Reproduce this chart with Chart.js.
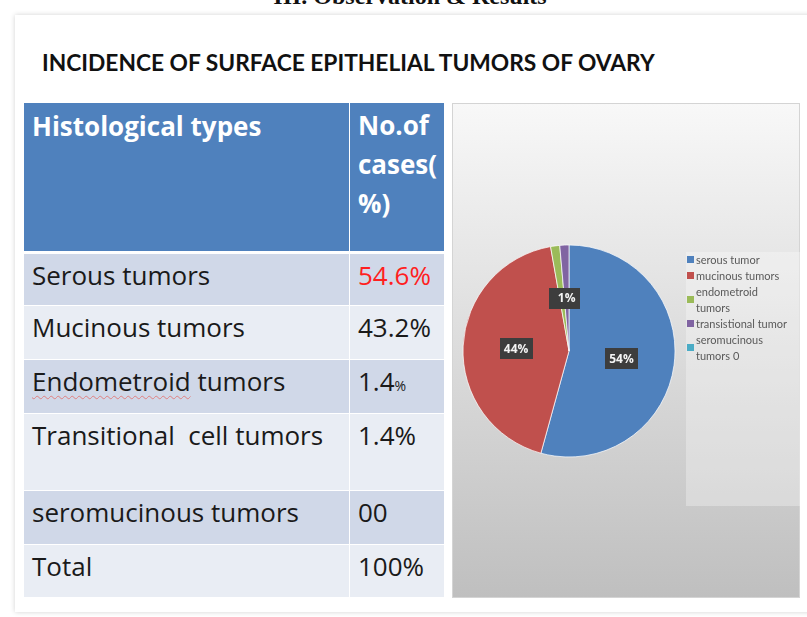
<!DOCTYPE html>
<html>
<head>
<meta charset="utf-8">
<script src="https://cdn.jsdelivr.net/npm/chart.js@4/dist/chart.umd.min.js"></script>
<style>
  html, body { margin: 0; padding: 0; background: #fff; width: 807px; height: 617px; overflow: hidden; }
  body { position: relative; font-family: Lato, "Open Sans", sans-serif; }
  #page-title { position: absolute; left: 0; width: 820px; top: -17px; text-align: center;
    font-family: "Liberation Serif", serif; font-weight: bold; font-size: 24px; color: #111; }
  #slide { position: absolute; left: 15px; top: 15px; width: 800px; height: 597px; background: #fff;
    box-shadow: 0 0 5px rgba(0,0,0,0.18); }
  #heading { position: absolute; left: 42px; top: 49px; font-weight: bold; font-size: 22px; color: #111;
    white-space: nowrap; transform-origin: left top; }
  #tbl { position: absolute; left: 23px; top: 102px; width: 421px; border-collapse: collapse; table-layout: fixed; }
  #tbl td { border: 1px solid #fff; padding: 0 0 0 8px; vertical-align: top; font-family: "Open Sans", sans-serif;
    font-size: 26px; color: #1a1a1a; white-space: nowrap; overflow: hidden; }
  #tbl tr.head td { background: #4f81bd; color: #fff; font-weight: bold; border-bottom: 3px solid #fff; }
  #tbl tr.odd td { background: #d0d8e8; }
  #tbl tr.even td { background: #e9edf4; }
  #panel { position: absolute; left: 452px; top: 103px; width: 348px; height: 495px;
    background: linear-gradient(#f8f8f8, #bfbfbf); box-shadow: inset 0 0 0 1px #d4d4d4; }
  #chart-box { position: absolute; left: 0; top: 0; width: 348px; height: 495px; }
  #legend { position: absolute; left: 234px; top: 149px; width: 114px; height: 254px;
    background: rgba(255,255,255,0.3); }
  .lg-item { position: relative; padding-left: 10px; font-size: 11px; line-height: 16px; color: #595959; }
  .lg-item span.sw { position: absolute; left: 1px; width: 7px; height: 7px; top: 50%; margin-top: -4px; }
</style>
</head>
<body>
<div id="page-title">III. Observation &amp; Results</div>
<div id="slide"></div>
<div id="heading" data-fit="613">INCIDENCE OF SURFACE EPITHELIAL TUMORS OF OVARY</div>
<table id="tbl"></table>
<div id="panel">
  <div id="chart-box"><canvas id="chart"></canvas></div>
  <div id="legend"></div>
</div>
<script>
  // table columns
  const headTypes = "Histological types";
  const headCases = ["No.of", "cases(", "%)"];
  const tableTypes = ["Serous tumors", "Mucinous tumors", "Endometroid tumors",
    "Transitional\u00a0 cell tumors", "seromucinous tumors", "Total"];
  const tableCases = ["54.6%", "43.2%", "1.4%", "1.4%", "00", "100%"];

  // pie chart
  const categories = ["serous tumor", "mucinous tumors", "endometroid tumors",
    "transistional tumor", "seromucinous tumors 0"];
  const legendLines = [["serous tumor"], ["mucinous tumors"], ["endometroid", "tumors"],
    ["transistional tumor"], ["seromucinous", "tumors 0"]];
  const caseValues = [54.6, 43.2, 1.4, 1.4, 0];
  const sliceLabels = ["54%", "44%", "1%", "1%", ""];
  const sliceColors = ["#4f81bd", "#c0504d", "#9bbb59", "#8064a2", "#4bacc6"];

  const rowHeights = [53, 54, 54, 77, 54, 53];

  function buildTable() {
    const tbl = document.getElementById("tbl");
    let html = '<colgroup><col style="width:326px"><col style="width:95px"></colgroup>';
    html += '<tr class="head" style="height:150px">' +
      '<td style="padding-top:5px;line-height:36px">' + headTypes + '</td>' +
      '<td style="padding-top:3px;line-height:39px">' + headCases.join("<br>") + '</td></tr>';
    tableTypes.forEach((t, i) => {
      let name = t;
      let val = tableCases[i];
      if (i === 2) {
        name = '<span style="text-decoration:underline wavy #e08080 1px;text-underline-offset:4px">Endometroid</span> tumors';
        val = '1.4<span style="font-size:14px">%</span>';
      }
      if (i === 0) val = '<span style="color:#ff1f1f">' + val + '</span>';
      html += '<tr class="' + (i % 2 === 0 ? "odd" : "even") + '" style="height:' + rowHeights[i] + 'px">' +
        '<td style="padding-top:6px;line-height:30px">' + name + '</td>' +
        '<td style="padding-top:6px;line-height:30px">' + val + '</td></tr>';
    });
    tbl.innerHTML = html;
  }

  function buildLegend() {
    const box = document.getElementById("legend");
    box.innerHTML = legendLines.map((lines, i) =>
      '<div class="lg-item"><span class="sw" style="background:' + sliceColors[i] + '"></span>' +
      lines.join("<br>") + '</div>').join("");
  }

  function fitWidths() {
    document.querySelectorAll("[data-fit]").forEach(el => {
      const target = +el.dataset.fit;
      el.style.transform = "scaleX(" + (target / el.scrollWidth) + ")";
    });
  }

  const labelPlugin = {
    id: "sliceLabels",
    afterDatasetsDraw(chart) {
      const ctx = chart.ctx;
      const arcs = chart.getDatasetMeta(0).data;
      ctx.save();
      ctx.font = "bold 12px 'Open Sans', sans-serif";
      ctx.textAlign = "center";
      ctx.textBaseline = "middle";
      arcs.forEach((arc, i) => {
        const txt = sliceLabels[i];
        if (!txt) return;
        const p = arc.tooltipPosition();
        const w = ctx.measureText(txt).width + 8;
        const h = 21;
        ctx.fillStyle = "#3d3d3d";
        ctx.fillRect(Math.round(p.x - w / 2), Math.round(p.y - h / 2), Math.round(w), h);
        ctx.fillStyle = "#f4f4f4";
        ctx.fillText(txt, p.x, p.y + 1);
      });
      ctx.restore();
    }
  };

  function makeChart() {
    const ctx = document.getElementById("chart").getContext("2d");
    new Chart(ctx, {
      type: "pie",
      data: {
        labels: categories,
        datasets: [{
          data: caseValues,
          backgroundColor: sliceColors,
          borderColor: "rgba(255,255,255,0.7)",
          borderWidth: 1,
          radius: 106
        }]
      },
      options: {
        responsive: true,
        maintainAspectRatio: false,
        animation: false,
        layout: { padding: { left: 11, right: 125, top: 142, bottom: 141 } },
        plugins: {
          legend: { display: false },
          tooltip: { enabled: false }
        }
      },
      plugins: [labelPlugin]
    });
  }

  buildTable();
  buildLegend();
  fitWidths();
  makeChart();
</script>
</body>
</html>
